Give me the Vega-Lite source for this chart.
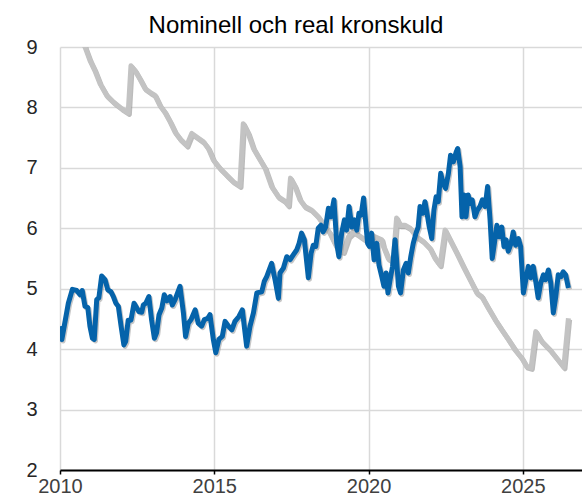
{
  "$schema": "https://vega.github.io/schema/vega-lite/v6.json",
  "width": 522,
  "height": 423,
  "autosize": {"type": "none"},
  "padding": {"left": 60, "top": 47, "right": 0, "bottom": 30},
  "background": "white",
  "config": {
    "font": "Liberation Sans",
    "view": {"stroke": null},
    "axis": {"labelFont": "Liberation Sans", "labelFontSize": 20, "labelColor": "#404040", "gridColor": "#d9d9d9", "gridWidth": 1.5}
  },
  "title": {"text": "Nominell och real kronskuld", "fontSize": 24, "fontWeight": "normal", "color": "#000000", "dx": -25, "offset": 10, "dy": 11},
  "datasets": {
    "nom": [
      {"year": 2010.00, "value": 4.38}, {"year": 2010.06, "value": 4.16}, {"year": 2010.27, "value": 4.76}, {"year": 2010.40, "value": 4.99},
      {"year": 2010.54, "value": 4.97}, {"year": 2010.65, "value": 4.90}, {"year": 2010.72, "value": 4.97}, {"year": 2010.81, "value": 4.71},
      {"year": 2010.90, "value": 4.69}, {"year": 2010.97, "value": 4.38}, {"year": 2011.05, "value": 4.18}, {"year": 2011.11, "value": 4.16},
      {"year": 2011.19, "value": 4.82}, {"year": 2011.26, "value": 4.85}, {"year": 2011.35, "value": 5.21}, {"year": 2011.46, "value": 5.15},
      {"year": 2011.55, "value": 4.98}, {"year": 2011.65, "value": 4.95}, {"year": 2011.73, "value": 4.87}, {"year": 2011.81, "value": 4.76},
      {"year": 2011.89, "value": 4.71}, {"year": 2011.98, "value": 4.38}, {"year": 2012.07, "value": 4.07}, {"year": 2012.13, "value": 4.13},
      {"year": 2012.21, "value": 4.48}, {"year": 2012.30, "value": 4.48}, {"year": 2012.40, "value": 4.76}, {"year": 2012.49, "value": 4.68},
      {"year": 2012.56, "value": 4.62}, {"year": 2012.65, "value": 4.61}, {"year": 2012.70, "value": 4.73}, {"year": 2012.78, "value": 4.76},
      {"year": 2012.88, "value": 4.87}, {"year": 2012.97, "value": 4.48}, {"year": 2013.06, "value": 4.18}, {"year": 2013.13, "value": 4.27},
      {"year": 2013.21, "value": 4.57}, {"year": 2013.30, "value": 4.68}, {"year": 2013.38, "value": 4.90}, {"year": 2013.47, "value": 4.80},
      {"year": 2013.57, "value": 4.87}, {"year": 2013.64, "value": 4.73}, {"year": 2013.73, "value": 4.82}, {"year": 2013.89, "value": 5.04},
      {"year": 2014.00, "value": 4.60}, {"year": 2014.07, "value": 4.21}, {"year": 2014.16, "value": 4.43}, {"year": 2014.25, "value": 4.49},
      {"year": 2014.38, "value": 4.65}, {"year": 2014.48, "value": 4.43}, {"year": 2014.59, "value": 4.38}, {"year": 2014.68, "value": 4.49},
      {"year": 2014.79, "value": 4.51}, {"year": 2014.86, "value": 4.57}, {"year": 2014.97, "value": 4.16}, {"year": 2015.05, "value": 3.94},
      {"year": 2015.15, "value": 4.16}, {"year": 2015.26, "value": 4.21}, {"year": 2015.35, "value": 4.46}, {"year": 2015.46, "value": 4.38},
      {"year": 2015.57, "value": 4.32}, {"year": 2015.67, "value": 4.46}, {"year": 2015.80, "value": 4.54}, {"year": 2015.91, "value": 4.65},
      {"year": 2016.05, "value": 4.05}, {"year": 2016.16, "value": 4.38}, {"year": 2016.27, "value": 4.60}, {"year": 2016.38, "value": 4.93},
      {"year": 2016.54, "value": 4.95}, {"year": 2016.62, "value": 5.12}, {"year": 2016.70, "value": 5.20}, {"year": 2016.86, "value": 5.42},
      {"year": 2016.97, "value": 5.15}, {"year": 2017.08, "value": 4.84}, {"year": 2017.13, "value": 5.26}, {"year": 2017.24, "value": 5.34},
      {"year": 2017.35, "value": 5.53}, {"year": 2017.46, "value": 5.48}, {"year": 2017.56, "value": 5.56}, {"year": 2017.67, "value": 5.64},
      {"year": 2017.75, "value": 5.75}, {"year": 2017.83, "value": 5.92}, {"year": 2017.92, "value": 5.81}, {"year": 2018.00, "value": 5.42},
      {"year": 2018.05, "value": 5.18}, {"year": 2018.14, "value": 5.59}, {"year": 2018.21, "value": 5.72}, {"year": 2018.29, "value": 5.70},
      {"year": 2018.37, "value": 6.00}, {"year": 2018.46, "value": 6.05}, {"year": 2018.53, "value": 5.94}, {"year": 2018.61, "value": 6.02},
      {"year": 2018.70, "value": 6.33}, {"year": 2018.78, "value": 6.19}, {"year": 2018.88, "value": 6.47}, {"year": 2018.97, "value": 5.75},
      {"year": 2019.04, "value": 5.53}, {"year": 2019.13, "value": 5.92}, {"year": 2019.22, "value": 6.14}, {"year": 2019.29, "value": 5.97},
      {"year": 2019.37, "value": 6.36}, {"year": 2019.46, "value": 6.02}, {"year": 2019.54, "value": 6.14}, {"year": 2019.62, "value": 5.97},
      {"year": 2019.69, "value": 6.25}, {"year": 2019.76, "value": 6.22}, {"year": 2019.84, "value": 6.50}, {"year": 2019.91, "value": 6.09},
      {"year": 2019.97, "value": 5.75}, {"year": 2020.03, "value": 5.70}, {"year": 2020.10, "value": 5.92}, {"year": 2020.18, "value": 5.48},
      {"year": 2020.27, "value": 5.75}, {"year": 2020.34, "value": 5.39}, {"year": 2020.43, "value": 5.20}, {"year": 2020.50, "value": 5.04},
      {"year": 2020.57, "value": 5.26}, {"year": 2020.63, "value": 4.93}, {"year": 2020.70, "value": 5.15}, {"year": 2020.78, "value": 5.37},
      {"year": 2020.86, "value": 5.81}, {"year": 2020.91, "value": 5.48}, {"year": 2020.97, "value": 5.04}, {"year": 2021.04, "value": 4.93},
      {"year": 2021.13, "value": 5.31}, {"year": 2021.22, "value": 5.42}, {"year": 2021.29, "value": 5.26}, {"year": 2021.37, "value": 5.53},
      {"year": 2021.45, "value": 5.75}, {"year": 2021.54, "value": 5.92}, {"year": 2021.61, "value": 6.02}, {"year": 2021.67, "value": 6.36},
      {"year": 2021.76, "value": 6.25}, {"year": 2021.83, "value": 6.44}, {"year": 2021.89, "value": 6.27}, {"year": 2021.97, "value": 6.02},
      {"year": 2022.05, "value": 5.83}, {"year": 2022.12, "value": 6.30}, {"year": 2022.19, "value": 6.52}, {"year": 2022.26, "value": 6.44},
      {"year": 2022.34, "value": 6.91}, {"year": 2022.42, "value": 6.74}, {"year": 2022.50, "value": 6.66}, {"year": 2022.59, "value": 6.91},
      {"year": 2022.66, "value": 7.21}, {"year": 2022.75, "value": 7.10}, {"year": 2022.84, "value": 7.26}, {"year": 2022.89, "value": 7.32},
      {"year": 2022.97, "value": 7.02}, {"year": 2023.03, "value": 6.19}, {"year": 2023.10, "value": 6.55}, {"year": 2023.16, "value": 6.19},
      {"year": 2023.23, "value": 6.55}, {"year": 2023.29, "value": 6.41}, {"year": 2023.36, "value": 6.47}, {"year": 2023.45, "value": 6.19},
      {"year": 2023.53, "value": 6.30}, {"year": 2023.61, "value": 6.36}, {"year": 2023.69, "value": 6.47}, {"year": 2023.78, "value": 6.36},
      {"year": 2023.86, "value": 6.69}, {"year": 2023.94, "value": 6.14}, {"year": 2024.01, "value": 5.50}, {"year": 2024.08, "value": 5.75},
      {"year": 2024.16, "value": 6.05}, {"year": 2024.23, "value": 5.86}, {"year": 2024.32, "value": 6.02}, {"year": 2024.39, "value": 5.70},
      {"year": 2024.46, "value": 5.81}, {"year": 2024.53, "value": 5.62}, {"year": 2024.62, "value": 5.75}, {"year": 2024.69, "value": 5.94},
      {"year": 2024.77, "value": 5.72}, {"year": 2024.86, "value": 5.83}, {"year": 2024.93, "value": 5.70}, {"year": 2025.02, "value": 4.93},
      {"year": 2025.10, "value": 5.15}, {"year": 2025.18, "value": 5.37}, {"year": 2025.26, "value": 5.18}, {"year": 2025.34, "value": 5.37},
      {"year": 2025.43, "value": 5.09}, {"year": 2025.50, "value": 4.85}, {"year": 2025.58, "value": 5.09}, {"year": 2025.67, "value": 5.23},
      {"year": 2025.74, "value": 5.15}, {"year": 2025.83, "value": 5.31}, {"year": 2025.91, "value": 5.09}, {"year": 2025.99, "value": 4.60},
      {"year": 2026.07, "value": 4.87}, {"year": 2026.15, "value": 5.23}, {"year": 2026.24, "value": 5.20}, {"year": 2026.31, "value": 5.28},
      {"year": 2026.39, "value": 5.23}, {"year": 2026.48, "value": 5.01}
    ],
    "real": [
      {"year": 2010.00, "value": 9.95}, {"year": 2010.42, "value": 9.45}, {"year": 2010.81, "value": 9.00}, {"year": 2010.97, "value": 8.78},
      {"year": 2011.13, "value": 8.61}, {"year": 2011.30, "value": 8.39}, {"year": 2011.51, "value": 8.20}, {"year": 2011.73, "value": 8.09},
      {"year": 2012.00, "value": 7.98}, {"year": 2012.21, "value": 7.91}, {"year": 2012.30, "value": 8.69}, {"year": 2012.43, "value": 8.61},
      {"year": 2012.59, "value": 8.47}, {"year": 2012.76, "value": 8.31}, {"year": 2012.92, "value": 8.25}, {"year": 2013.08, "value": 8.20},
      {"year": 2013.24, "value": 8.03}, {"year": 2013.40, "value": 7.92}, {"year": 2013.57, "value": 7.76}, {"year": 2013.73, "value": 7.59},
      {"year": 2013.89, "value": 7.48}, {"year": 2014.11, "value": 7.37}, {"year": 2014.27, "value": 7.57}, {"year": 2014.43, "value": 7.51},
      {"year": 2014.65, "value": 7.43}, {"year": 2014.81, "value": 7.32}, {"year": 2014.97, "value": 7.13}, {"year": 2015.19, "value": 6.99},
      {"year": 2015.40, "value": 6.88}, {"year": 2015.62, "value": 6.77}, {"year": 2015.83, "value": 6.70}, {"year": 2015.94, "value": 7.73},
      {"year": 2016.10, "value": 7.57}, {"year": 2016.27, "value": 7.32}, {"year": 2016.43, "value": 7.18}, {"year": 2016.65, "value": 6.99},
      {"year": 2016.86, "value": 6.69}, {"year": 2017.08, "value": 6.52}, {"year": 2017.29, "value": 6.45}, {"year": 2017.40, "value": 6.38},
      {"year": 2017.47, "value": 6.83}, {"year": 2017.62, "value": 6.69}, {"year": 2017.78, "value": 6.47}, {"year": 2017.94, "value": 6.36},
      {"year": 2018.16, "value": 6.30}, {"year": 2018.37, "value": 6.19}, {"year": 2018.59, "value": 6.03}, {"year": 2018.75, "value": 5.92},
      {"year": 2018.91, "value": 5.75}, {"year": 2019.02, "value": 5.64}, {"year": 2019.18, "value": 5.61}, {"year": 2019.35, "value": 5.86},
      {"year": 2019.51, "value": 5.94}, {"year": 2019.67, "value": 5.89}, {"year": 2019.89, "value": 5.81}, {"year": 2020.05, "value": 5.89},
      {"year": 2020.21, "value": 5.86}, {"year": 2020.43, "value": 5.81}, {"year": 2020.48, "value": 5.70}, {"year": 2020.64, "value": 5.50},
      {"year": 2020.80, "value": 5.45}, {"year": 2020.91, "value": 6.17}, {"year": 2021.02, "value": 6.05}, {"year": 2021.18, "value": 6.05},
      {"year": 2021.35, "value": 6.00}, {"year": 2021.56, "value": 5.86}, {"year": 2021.78, "value": 5.78}, {"year": 2021.99, "value": 5.67},
      {"year": 2022.16, "value": 5.50}, {"year": 2022.32, "value": 5.39}, {"year": 2022.48, "value": 5.97}, {"year": 2022.64, "value": 5.81},
      {"year": 2022.86, "value": 5.59}, {"year": 2023.07, "value": 5.37}, {"year": 2023.29, "value": 5.15}, {"year": 2023.51, "value": 4.93},
      {"year": 2023.67, "value": 4.87}, {"year": 2023.88, "value": 4.68}, {"year": 2024.10, "value": 4.49}, {"year": 2024.32, "value": 4.32},
      {"year": 2024.53, "value": 4.16}, {"year": 2024.75, "value": 3.99}, {"year": 2024.97, "value": 3.85}, {"year": 2025.13, "value": 3.71},
      {"year": 2025.27, "value": 3.69}, {"year": 2025.42, "value": 4.29}, {"year": 2025.61, "value": 4.13}, {"year": 2025.88, "value": 3.99},
      {"year": 2026.10, "value": 3.85}, {"year": 2026.33, "value": 3.70}, {"year": 2026.48, "value": 4.51}
    ]
  },
  "encoding": {
    "x": {"field": "year", "type": "quantitative", "scale": {"domain": [2010, 2026.92], "nice": false, "zero": false},
      "axis": {"title": null, "values": [2010, 2015, 2020, 2025], "format": "d", "grid": true, "domain": true, "domainColor": "#000000", "domainWidth": 2, "ticks": true, "tickColor": "#000000", "tickSize": 4, "tickWidth": 1.5, "labelPadding": 2, "labelFlush": false}},
    "y": {"field": "value", "type": "quantitative", "scale": {"domain": [2, 9], "nice": false, "zero": false},
      "axis": {"title": null, "values": [2, 3, 4, 5, 6, 7, 8, 9], "grid": true, "domain": false, "ticks": false, "labelPadding": 23, "labelColor": "#262626"}}
  },
  "layer": [
    {"data": {"name": "real"}, "mark": {"type": "line", "clip": true, "color": "#8f8f8f", "opacity": 0.6, "strokeWidth": 5, "xOffset": 1.2, "yOffset": 1.5, "strokeJoin": "round"}},
    {"data": {"name": "real"}, "mark": {"type": "line", "clip": true, "color": "#c3c3c3", "strokeWidth": 5, "strokeJoin": "round"}},
    {"data": {"name": "nom"}, "mark": {"type": "line", "clip": true, "color": "#8f8f8f", "opacity": 0.5, "strokeWidth": 5, "xOffset": 1.2, "yOffset": 1.5, "strokeJoin": "round"}},
    {"data": {"name": "nom"}, "mark": {"type": "line", "clip": true, "color": "#0563aa", "strokeWidth": 5, "strokeJoin": "round"}}
  ]
}
